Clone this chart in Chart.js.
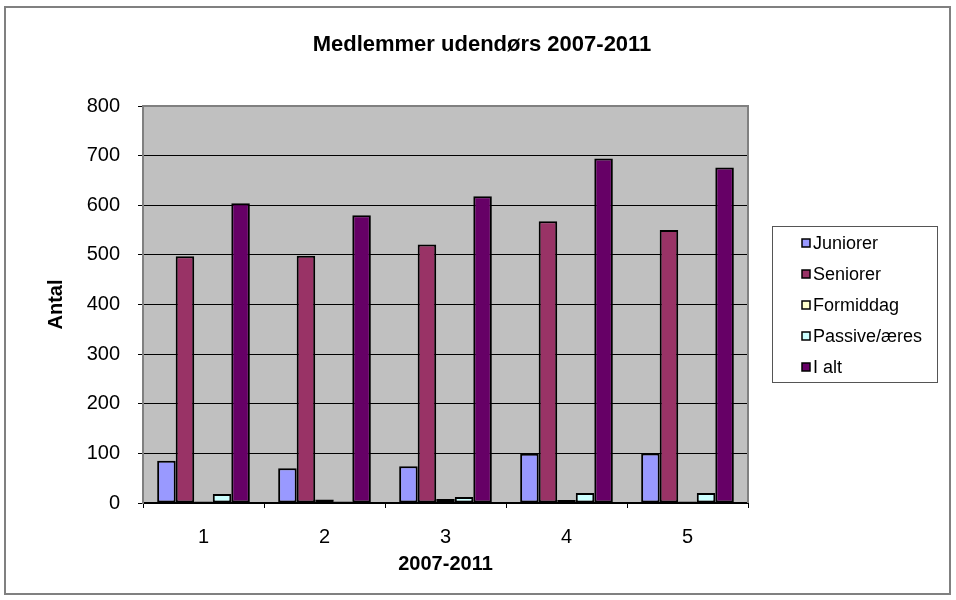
<!DOCTYPE html>
<html>
<head>
<meta charset="utf-8">
<script src="https://cdn.jsdelivr.net/npm/chart.js@4/dist/chart.umd.min.js"></script>
<style>
  html, body { margin: 0; padding: 0; background: #fff; }
  #wrap { width: 956px; height: 600px; position: relative; }
</style>
</head>
<body>
<div id="wrap"><canvas id="chart"></canvas></div>
<script>
// --- data ---
var categories = ['1', '2', '3', '4', '5'];
var juniorer   = [85, 70, 74, 99, 100];
var seniorer   = [497, 498, 521, 568, 550];
var formiddag  = [3, 7, 8, 6, 3];
var passive    = [18, 3, 12, 20, 20];
var iAlt       = [604, 580, 618, 694, 676];
var yTicks     = [0, 100, 200, 300, 400, 500, 600, 700, 800];

var FONT = '"Liberation Sans", Arial, sans-serif';

// gray plot area, outer frame, title and the boxed legend
var excelLook = {
    id: 'excelLook',
    beforeDraw: function (chart) {
        var ctx = chart.ctx, a = chart.chartArea;
        ctx.save();
        ctx.fillStyle = '#fff';
        ctx.fillRect(0, 0, chart.width, chart.height);
        ctx.fillStyle = '#c0c0c0';
        ctx.fillRect(a.left, a.top, a.right - a.left, a.bottom - a.top);
        ctx.restore();
    },
    beforeDatasetsDraw: function (chart) {
        var ctx = chart.ctx, a = chart.chartArea;
        ctx.save();
        ctx.strokeStyle = '#808080';
        ctx.lineWidth = 2;
        ctx.beginPath();
        ctx.moveTo(a.left, a.bottom);
        ctx.lineTo(a.left, a.top);
        ctx.lineTo(a.right, a.top);
        ctx.lineTo(a.right, a.bottom);
        ctx.stroke();
        ctx.restore();
    },
    afterDraw: function (chart) {
        var ctx = chart.ctx;
        ctx.save();
        // outer frame
        ctx.strokeStyle = '#808080';
        ctx.lineWidth = 2;
        ctx.strokeRect(5, 7, 945, 587);
        // title
        ctx.fillStyle = '#000';
        ctx.font = 'bold 22px ' + FONT;
        ctx.textAlign = 'center';
        ctx.textBaseline = 'middle';
        ctx.fillText('Medlemmer udendørs 2007-2011', 482, 45);
        // legend
        ctx.strokeStyle = '#555';
        ctx.lineWidth = 1;
        ctx.strokeRect(772.5, 226.5, 165, 156);
        ctx.font = '18px ' + FONT;
        ctx.textAlign = 'left';
        chart.data.datasets.forEach(function (ds, i) {
            var y = 243 + i * 31;
            ctx.fillStyle = ds.backgroundColor;
            ctx.fillRect(802, y - 4, 8, 8);
            ctx.strokeStyle = '#000';
            ctx.lineWidth = 1.5;
            ctx.strokeRect(802, y - 4, 8, 8);
            ctx.fillStyle = '#000';
            ctx.fillText(ds.label, 813, y + 1);
        });
        ctx.restore();
    }
};

function barSet(label, data, color) {
    return {
        label: label,
        data: data,
        backgroundColor: color,
        borderColor: '#000',
        borderWidth: 2,
        borderSkipped: false
    };
}

new Chart(document.getElementById('chart'), {
    type: 'bar',
    data: {
        labels: categories,
        datasets: [
            barSet('Juniorer', juniorer, '#9999ff'),
            barSet('Seniorer', seniorer, '#993366'),
            barSet('Formiddag', formiddag, '#ffffcc'),
            barSet('Passive/æres', passive, '#ccffff'),
            barSet('I alt', iAlt, '#660066')
        ]
    },
    options: {
        responsive: true,
        maintainAspectRatio: false,
        animation: false,
        layout: { padding: { left: 0, top: 106, right: 208, bottom: 0 } },
        datasets: { bar: { categoryPercentage: 0.766, barPercentage: 1.0 } },
        plugins: {
            legend: { display: false },
            title: { display: false },
            tooltip: { enabled: false }
        },
        scales: {
            x: {
                afterFit: function (s) { s.height = 97; },
                grid: { offset: true, drawOnChartArea: false, tickLength: 5, tickColor: '#000', tickWidth: 1 },
                border: { color: '#000', width: 2 },
                ticks: { color: '#000', padding: 17, font: { family: FONT, size: 20 } },
                title: {
                    display: true,
                    text: '2007-2011',
                    color: '#000',
                    font: { family: FONT, size: 20, weight: 'bold' },
                    padding: { top: 0, bottom: 24 }
                }
            },
            y: {
                min: 0,
                max: 800,
                afterFit: function (s) { s.width = 143; },
                afterBuildTicks: function (s) {
                    s.ticks = yTicks.map(function (v) { return { value: v }; });
                },
                grid: { color: '#000', lineWidth: 1, tickLength: 5, tickColor: '#000' },
                border: { color: '#808080', width: 2 },
                ticks: { color: '#000', padding: 18, font: { family: FONT, size: 20 } },
                title: {
                    display: true,
                    text: 'Antal',
                    color: '#000',
                    font: { family: FONT, size: 20, weight: 'bold' },
                    padding: { top: 44, bottom: 0 }
                }
            }
        }
    },
    plugins: [excelLook]
});
</script>
</body>
</html>
